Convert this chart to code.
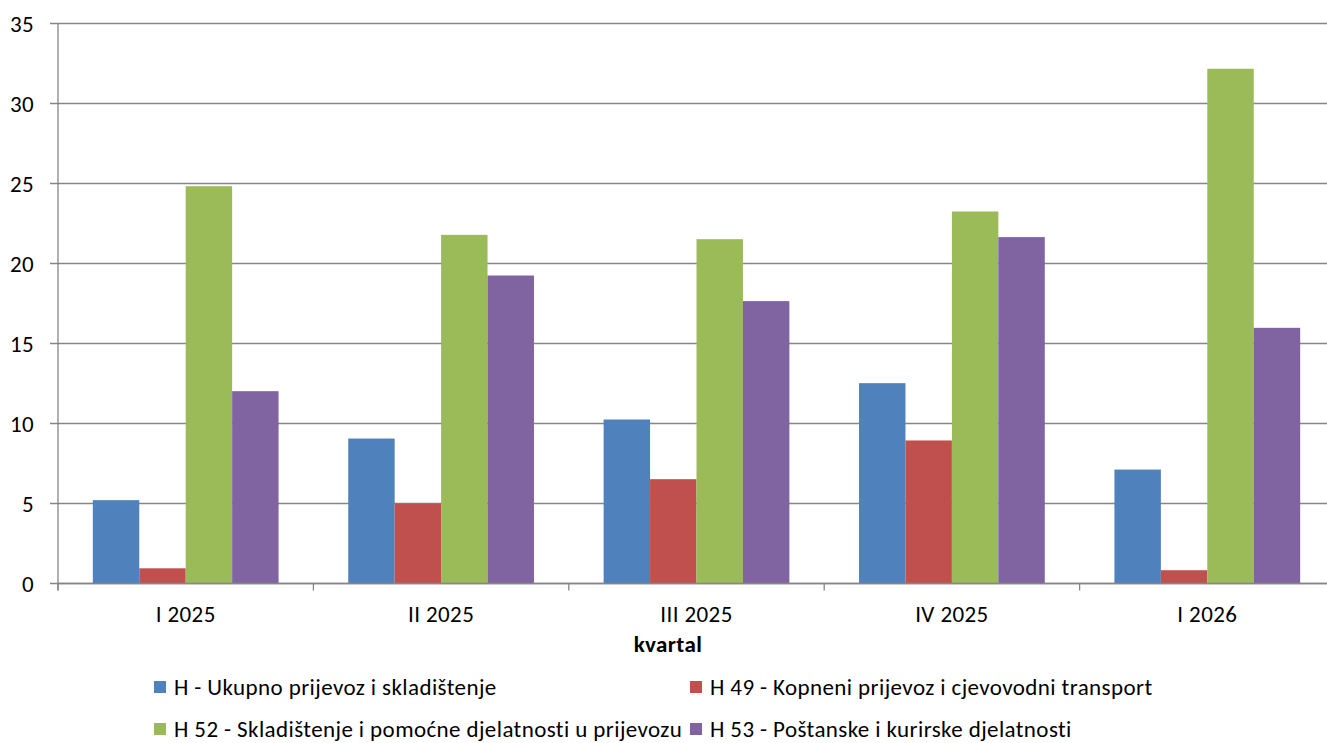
<!DOCTYPE html>
<html>
<head>
<meta charset="utf-8">
<script src="https://cdn.jsdelivr.net/npm/d3@7"></script>
<style>
    body { margin: 0; background: #fff; }
    svg { display: block; font-family: Calibri, Carlito, Lato, sans-serif; letter-spacing: 0.4px; }
</style>
</head>
<body>
<div id="chart"></div>
<script>
const categories = ["I 2025", "II 2025", "III 2025", "IV 2025", "I 2026"];
const seriesNames = [
    "H - Ukupno prijevoz i skladištenje",
    "H 49 - Kopneni prijevoz i cjevovodni transport",
    "H 52 - Skladištenje i pomoćne djelatnosti u prijevozu",
    "H 53 - Poštanske i kurirske djelatnosti",
];
const totalH = [5.21, 9.06, 10.25, 12.52, 7.12];
const h49 = [0.95, 5.0, 6.52, 8.94, 0.83];
const h52 = [24.83, 21.79, 21.52, 23.25, 32.17];
const h53 = [12.02, 19.25, 17.65, 21.65, 15.98];
const yTicks = [0, 5, 10, 15, 20, 25, 30, 35];
const xTitle = "kvartal";

const seriesValues = [totalH, h49, h52, h53];
const colors = ["#4F81BD", "#C0504D", "#9BBB59", "#8064A2"];

const width = 1327;
const height = 743;
const marginLeft = 58;
const plotRight = 1335; // plot runs slightly past the edge, clipped like the original
const marginTop = 23.5;
const plotBottom = 583.5;
const gridColor = "#868686";
const fontSize = 23;

const svg = d3
    .select("#chart")
    .append("svg")
    .attr("width", width)
    .attr("height", height);

// scales
const x = d3
    .scaleBand()
    .domain(categories)
    .range([marginLeft, plotRight])
    .paddingInner(0)
    .paddingOuter(0);

const x1 = d3
    .scaleBand()
    .domain(d3.range(seriesValues.length))
    .range([0, x.bandwidth()])
    .paddingInner(0)
    .paddingOuter(0.75);

const y = d3
    .scaleLinear()
    .domain([0, 35])
    .range([plotBottom, marginTop]);

// gridlines + y labels
const yAxis = svg.append("g").attr("transform", `translate(${marginLeft},0)`);
yAxis.selectAll("line.grid")
    .data(yTicks)
    .enter()
    .append("line")
    .attr("class", "grid")
    .attr("x1", -8)
    .attr("x2", width)
    .attr("y1", (d) => y(d))
    .attr("y2", (d) => y(d))
    .attr("stroke", gridColor)
    .attr("stroke-width", 1.3);

yAxis.selectAll("text")
    .data(yTicks)
    .enter()
    .append("text")
    .attr("x", -24)
    .attr("y", (d) => y(d))
    .attr("dy", "0.35em")
    .attr("text-anchor", "end")
    .attr("font-size", fontSize)
    .attr("fill", "#000")
    .text((d) => d);

yAxis.append("line")
    .attr("y1", marginTop)
    .attr("y2", plotBottom + 7)
    .attr("stroke", gridColor)
    .attr("stroke-width", 1.3);

// bars
const group = svg
    .append("g")
    .selectAll("g")
    .data(categories)
    .enter()
    .append("g")
    .attr("transform", (d) => `translate(${x(d)},0)`);

group.selectAll("rect")
    .data((d, i) => seriesValues.map((s, j) => ({ s: j, v: s[i] })))
    .enter()
    .append("rect")
    .attr("x", (d) => x1(d.s))
    .attr("width", x1.bandwidth())
    .attr("y", (d) => y(d.v))
    .attr("height", (d) => plotBottom - y(d.v))
    .attr("fill", (d) => colors[d.s]);

// x axis line, ticks, labels
const xAxis = svg.append("g");
xAxis.append("line")
    .attr("x1", marginLeft)
    .attr("x2", width)
    .attr("y1", plotBottom)
    .attr("y2", plotBottom)
    .attr("stroke", gridColor)
    .attr("stroke-width", 1.3);

xAxis.selectAll("line.tick")
    .data(categories)
    .enter()
    .append("line")
    .attr("class", "tick")
    .attr("x1", (d) => x(d))
    .attr("x2", (d) => x(d))
    .attr("y1", plotBottom)
    .attr("y2", plotBottom + 7)
    .attr("stroke", gridColor)
    .attr("stroke-width", 1.3);

xAxis.selectAll("text")
    .data(categories)
    .enter()
    .append("text")
    .attr("x", (d) => x(d) + x.bandwidth() / 2)
    .attr("y", 622)
    .attr("text-anchor", "middle")
    .attr("font-size", fontSize)
    .attr("fill", "#000")
    .text((d) => d);

svg.append("text")
    .attr("x", 668)
    .attr("y", 652)
    .attr("text-anchor", "middle")
    .attr("font-size", fontSize)
    .attr("font-weight", "bold")
    .attr("fill", "#000")
    .text(xTitle);

// legend, two columns by two rows
const legendPos = [
    [154, 687],
    [690, 687],
    [154, 729],
    [690, 729],
];

const legend = svg
    .append("g")
    .selectAll("g")
    .data(seriesNames)
    .enter()
    .append("g")
    .attr("transform", (d, i) => `translate(${legendPos[i][0]},${legendPos[i][1]})`);

legend.append("rect")
    .attr("x", 0)
    .attr("y", -6)
    .attr("width", 12)
    .attr("height", 12)
    .attr("fill", (d, i) => colors[i]);

legend.append("text")
    .attr("x", 20)
    .attr("y", 0)
    .attr("dy", "0.35em")
    .attr("font-size", fontSize)
    .attr("fill", "#000")
    .text((d) => d);
</script>
</body>
</html>
